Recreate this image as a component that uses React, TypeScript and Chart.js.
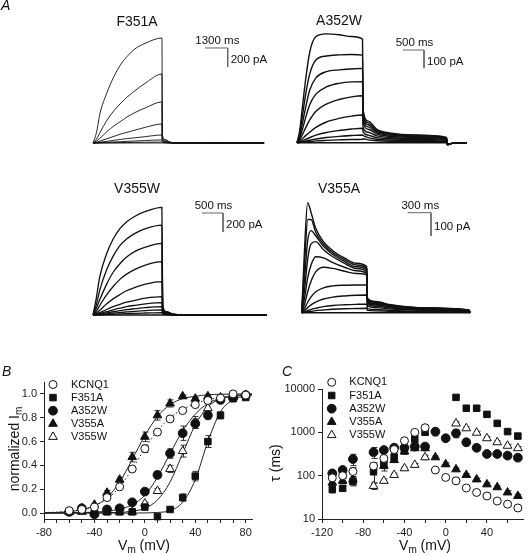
import React, { useEffect, useRef } from 'react';
import { Chart, registerables } from 'chart.js';
import { drawPoint } from 'chart.js/helpers';

Chart.register(...registerables);

const FONT = '"Liberation Sans", Arial, Helvetica, sans-serif';
const INK = '#111';
const AXIS = '#222';

// ---------------- Panel A : current traces (ms, pA) ----------------
const F351A_TIME = [0, 200, 400, 800, 1200, 1600, 2000, 2400, 3000, 3950, 3970, 4150, 4400, 4800, 9800];
const F351A_TRACES = [
  [0, 110, 310, 530, 700, 830, 920, 990, 1050, 1105, 85, 35, 10, 2, 0],
  [0, 40, 110, 240, 340, 420, 490, 550, 630, 726, 70, 30, 8, 2, 0],
  [0, 20, 50, 120, 180, 230, 280, 320, 370, 432, 55, 22, 6, 1, 0],
  [0, 8, 20, 45, 70, 95, 115, 135, 165, 200, 40, 15, 4, 1, 0],
  [0, 3, 8, 18, 28, 38, 47, 55, 67, 84, 25, 10, 3, 0, 0],
  [0, 1, 3, 7, 11, 14, 18, 21, 26, 32, 12, 5, 1, 0, 0],
  [0, 0, 1, 2, 3, 4, 5, 7, 8, 10, 5, 2, 0, 0, 0],
  [0, 0, 0, 0, 0, 0, 0, 0, 0, 0, 0, 0, 0, 0, 0],
];
const F351A_BAR = [1300, 200];

const A352W_TIME = [0, 60, 130, 200, 300, 450, 700, 1000, 1300, 1560, 1575, 1700, 1900, 2200, 2800, 3560, 3580, 3650, 4040];
const A352W_TRACES = [
  [0, 60, 200, 340, 500, 590, 605, 600, 590, 575, 181, 120, 75, 55, 43, 30, -10, -5, 0],
  [0, 45, 150, 260, 380, 460, 482, 488, 490, 487, 165, 110, 70, 50, 40, 28, -10, -5, 0],
  [0, 35, 110, 190, 290, 360, 395, 405, 410, 413, 150, 100, 63, 46, 38, 26, -10, -5, 0],
  [0, 25, 75, 135, 210, 270, 310, 330, 338, 339, 130, 88, 56, 42, 34, 24, -10, -5, 0],
  [0, 15, 45, 80, 125, 175, 215, 240, 255, 261, 110, 75, 48, 36, 30, 21, -10, -5, 0],
  [0, 8, 22, 38, 58, 85, 115, 135, 148, 154, 85, 58, 38, 29, 24, 17, -10, -5, 0],
  [0, 4, 10, 18, 28, 42, 57, 68, 76, 80, 60, 42, 28, 22, 18, 13, -10, -5, 0],
  [0, 2, 5, 9, 14, 21, 29, 35, 40, 43, 40, 28, 19, 15, 12, 9, -10, -5, 0],
  [0, 1, 3, 5, 7, 10, 13, 16, 18, 19, 22, 16, 11, 8, 7, 5, -10, -5, 0],
  [0, 0, 0, 0, 0, 0, 0, 0, 0, 0, 0, 0, 0, 0, 0, 0, -10, -5, 0],
];
const A352W_BAR = [500, 100];

const V355W_TIME = [0, 80, 160, 320, 480, 640, 800, 1000, 1250, 1640, 1660, 1750, 1900, 2200, 4140];
const V355W_TRACES = [
  [0, 180, 400, 640, 800, 910, 980, 1040, 1090, 1133, 90, 35, 10, 2, 0],
  [0, 110, 260, 470, 620, 730, 800, 860, 910, 947, 80, 30, 9, 2, 0],
  [0, 70, 160, 320, 450, 540, 610, 670, 715, 754, 70, 28, 8, 2, 0],
  [0, 40, 100, 210, 300, 375, 430, 480, 525, 561, 60, 24, 7, 1, 0],
  [0, 20, 50, 115, 170, 215, 255, 290, 325, 351, 50, 20, 6, 1, 0],
  [0, 10, 25, 58, 88, 113, 135, 155, 177, 193, 40, 16, 5, 1, 0],
  [0, 6, 15, 35, 55, 72, 88, 102, 117, 130, 30, 12, 4, 1, 0],
  [0, 4, 9, 22, 34, 45, 56, 66, 78, 88, 25, 10, 3, 0, 0],
  [0, 2, 5, 12, 19, 26, 32, 39, 46, 53, 18, 7, 2, 0, 0],
  [0, 1, 2, 5, 8, 11, 14, 18, 21, 25, 12, 5, 1, 0, 0],
  [0, 0, 0, 0, 0, 0, 0, 0, 0, 0, 0, 0, 0, 0, 0],
];
const V355W_BAR = [500, 200];

const V355A_TIME = [0, 40, 77, 120, 180, 280, 400, 550, 700, 836, 845, 950, 1150, 1500, 2150, 2165];
const V355A_TRACES = [
  [0, 300, 472, 430, 362, 305, 266, 235, 212, 197, 62, 48, 34, 22, 12, 0],
  [0, 230, 400, 400, 345, 295, 258, 228, 205, 190, 58, 45, 32, 21, 11, 0],
  [0, 160, 310, 352, 330, 285, 250, 220, 197, 183, 54, 42, 30, 20, 10, 0],
  [0, 110, 230, 295, 305, 270, 240, 212, 190, 176, 50, 39, 28, 19, 10, 0],
  [0, 70, 150, 205, 240, 235, 215, 195, 180, 169, 46, 36, 26, 18, 9, 0],
  [0, 40, 90, 135, 175, 195, 190, 178, 168, 162, 42, 33, 24, 16, 8, 0],
  [0, 20, 45, 68, 90, 107, 115, 118, 119, 119, 36, 28, 20, 14, 7, 0],
  [0, 10, 22, 34, 46, 59, 67, 72, 75, 76, 28, 22, 16, 11, 6, 0],
  [0, 4, 9, 14, 19, 26, 31, 34, 36, 37, 18, 14, 10, 7, 4, 0],
  [0, 2, 4, 6, 9, 12, 15, 17, 18, 19, 10, 8, 6, 4, 2, 0],
  [0, 0, 0, 0, 0, 0, 0, 0, 0, 0, 0, 0, 0, 0, 0, 0],
];
const V355A_BAR = [300, 100];

// ---------------- Panel B : normalized Im vs Vm ----------------
const SERIES_NAMES = ['KCNQ1', 'F351A', 'A352W', 'V355A', 'V355W'];
const B_VOLTAGES = [-60, -50, -40, -30, -20, -10, 0, 10, 20, 30, 40, 50, 60, 70, 80];
const B_KCNQ1 = [0.02, 0.03, 0.05, 0.13, 0.22, 0.37, 0.54, 0.68, 0.79, 0.86, 0.91, 0.945, 0.965, 1.0, 0.99];
const B_F351A = [0.01, 0.02, 0.0, 0.01, 0.01, 0.01, 0.05, -0.03, 0.03, 0.13, 0.31, 0.6, 0.82, 0.96, 0.97];
const B_A352W = [0.01, 0.04, -0.01, 0.03, 0.04, 0.09, 0.18, 0.32, 0.5, 0.67, 0.75, 0.82, 0.95, 0.97, 0.99];
const B_V355A = [0.01, 0.04, 0.07, 0.17, 0.28, 0.47, 0.64, 0.82, 0.92, 0.98, 0.96, 0.98, 0.97, 0.98, 0.99];
const B_V355W = [0.01, 0.01, 0.0, 0.01, 0.01, 0.01, 0.08, 0.185, 0.37, 0.52, 0.76, 0.88, 0.96, 0.97, 0.99];
const B_ERR_KCNQ1 = [0, 0, 0, 0.01, 0.01, 0.02, 0.03, 0.02, 0.02, 0.01, 0.01, 0.01, 0.01, 0, 0];
const B_ERR_F351A = [0, 0, 0, 0, 0, 0, 0, 0, 0.01, 0.03, 0.04, 0.05, 0.03, 0.02, 0.02];
const B_ERR_A352W = [0, 0, 0, 0, 0, 0.01, 0.02, 0.03, 0.04, 0.06, 0.04, 0.03, 0.03, 0.01, 0.01];
const B_ERR_V355A = [0, 0, 0.01, 0.02, 0.02, 0.04, 0.04, 0.04, 0.03, 0.01, 0.01, 0, 0, 0, 0];
const B_ERR_V355W = [0, 0, 0, 0, 0, 0, 0.01, 0.02, 0.03, 0.05, 0.05, 0.04, 0.02, 0.01, 0.01];
const B_FIT_V = [-80, -70, -60, -50, -40, -30, -20, -10, 0, 10, 20, 30, 40, 50, 60, 70, 80, 85];
const B_FIT_KCNQ1 = [0.004, 0.008, 0.016, 0.03, 0.06, 0.12, 0.22, 0.37, 0.54, 0.69, 0.8, 0.87, 0.92, 0.95, 0.97, 0.98, 0.99, 0.99];
const B_FIT_F351A = [0, 0, 0, 0, 0, 0, 0, 0, 0.001, 0.005, 0.02, 0.09, 0.28, 0.6, 0.85, 0.95, 0.985, 0.99];
const B_FIT_A352W = [0, 0.001, 0.002, 0.004, 0.008, 0.016, 0.033, 0.07, 0.15, 0.3, 0.5, 0.69, 0.83, 0.92, 0.96, 0.98, 0.99, 0.995];
const B_FIT_V355A = [0.002, 0.005, 0.012, 0.028, 0.06, 0.13, 0.26, 0.45, 0.65, 0.81, 0.91, 0.96, 0.98, 0.993, 0.997, 0.999, 1.0, 1.0];
const B_FIT_V355W = [0, 0, 0, 0.001, 0.001, 0.003, 0.006, 0.015, 0.04, 0.11, 0.26, 0.5, 0.74, 0.89, 0.96, 0.985, 0.995, 0.997];
const B_X_TICKS = [-80, -70, -60, -50, -40, -30, -20, -10, 0, 10, 20, 30, 40, 50, 60, 70, 80];
const B_X_LABELS = [-80, -40, 0, 40, 80];
const B_Y_TICKS = [0, 0.2, 0.4, 0.6, 0.8, 1.0];

// ---------------- Panel C : tau vs Vm ----------------
const C_VOLTAGES = [-110, -100, -90, -70, -60, -50, -40, -30, -20, -10, 0, 10, 20, 30, 40, 50, 60, 70];
const C_KCNQ1 = [89, 100, 125, 167, 250, 400, 640, 1000, 1280, 135, 91, 76, 52, 41, 34, 26, 22, 18];
const C_F351A = [48, 51, 73, 123, 185, 270, 400, 700, 1000, null, null, 6400, 3600, 3600, 2600, 1610, 1040, 820];
const C_A352W = [113, 135, 242, 348, 390, 442, 440, 470, 470, 1035, 730, 950, 590, 440, 316, 316, 290, 260];
const C_V355A = [69, 76, 82, null, 168, 230, 360, 430, 430, 265, 183, 140, 104, 82, 63, 54, 41, 34];
const C_V355W = [null, null, null, 58, 76, 104, 148, 177, 265, null, null, 1600, 1240, 980, 730, 590, 490, 430];
const C_ERR_KCNQ1 = [10, 10, 30, 30, 30, 40, 60, 80, 100, 10, 8, 6, 4, 3, 3, 2, 2, 2];
const C_ERR_F351A = [8, 6, 15, 55, 40, 40, 60, 120, 100, 0, 0, 400, 300, 400, 300, 150, 100, 80];
const C_ERR_A352W = [15, 15, 70, 100, 50, 50, 60, 60, 60, 200, 80, 200, 100, 50, 40, 40, 30, 30];
const C_ERR_V355A = [10, 10, 12, 0, 40, 30, 50, 50, 50, 20, 15, 10, 8, 6, 5, 4, 4, 3];
const C_ERR_V355W = [0, 0, 0, 10, 8, 10, 12, 15, 30, 0, 0, 150, 100, 80, 60, 50, 40, 40];
const C_X_TICKS = [-120, -100, -80, -60, -40, -20, 0, 20, 40, 60];
const C_X_LABELS = [-120, -80, -40, 0, 40];
const C_Y_TICKS = [10, 100, 1000, 10000];

// ---------------- helpers ----------------
type Part = { t: string; sub?: boolean };

function drawParts(ctx: CanvasRenderingContext2D, parts: Part[], cx: number, cy: number, rot: number, size: number) {
  const subSize = Math.round(size * 0.72);
  ctx.save();
  ctx.translate(cx, cy);
  ctx.rotate(rot);
  let total = 0;
  for (const p of parts) {
    ctx.font = `${p.sub ? subSize : size}px ${FONT}`;
    total += ctx.measureText(p.t).width;
  }
  let x = -total / 2;
  ctx.fillStyle = INK;
  ctx.textBaseline = 'middle';
  ctx.textAlign = 'left';
  for (const p of parts) {
    ctx.font = `${p.sub ? subSize : size}px ${FONT}`;
    ctx.fillText(p.t, x, p.sub ? 4.5 : 0);
    x += ctx.measureText(p.t).width;
  }
  ctx.restore();
}

function drawText(ctx: CanvasRenderingContext2D, s: string, x: number, y: number, size: number, align: CanvasTextAlign, italic = false) {
  ctx.save();
  ctx.font = `${italic ? 'italic ' : ''}${size}px ${FONT}`;
  ctx.fillStyle = INK;
  ctx.textAlign = align;
  ctx.textBaseline = 'middle';
  ctx.fillText(s, x, y);
  ctx.restore();
}

type TracePanel = {
  title: string;
  time: number[];
  traces: number[][];
  bar: number[];
  box: { x: number; y: number; w: number; h: number };
  xr: [number, number];
  yr: [number, number];
  barAt: [number, number];
  titleAt: [number, number];
  lw: number;
  letter?: string;
};

function traceConfig(p: TracePanel) {
  const datasets: any[] = p.traces.map((tr) => ({
    data: p.time.map((t, i) => ({ x: t, y: tr[i] })),
    borderColor: INK,
    borderWidth: p.lw,
    pointRadius: 0,
    fill: false,
    cubicInterpolationMode: 'monotone',
  }));
  const [dt, di] = p.bar;
  const [t0, i0] = p.barAt;
  datasets.push({
    data: [
      { x: t0, y: i0 },
      { x: t0 + dt, y: i0 },
      { x: t0 + dt, y: i0 - di },
    ],
    borderColor: '#666',
    borderWidth: 1,
    pointRadius: 0,
    tension: 0,
    fill: false,
  });
  const textPlugin = {
    id: 'traceText',
    afterDraw(chart: any) {
      const ctx = chart.ctx as CanvasRenderingContext2D;
      const xs = chart.scales.x;
      const ys = chart.scales.y;
      drawText(ctx, p.title, p.titleAt[0], p.titleAt[1], 14, 'center');
      drawText(ctx, `${dt} ms`, xs.getPixelForValue(t0 + dt / 2) + 1, ys.getPixelForValue(i0) - 7, 11.5, 'center');
      drawText(ctx, `${di} pA`, xs.getPixelForValue(t0 + dt) + 3, ys.getPixelForValue(i0 - di / 2) + 2.5, 11.5, 'left');
      if (p.letter) drawText(ctx, p.letter, 1, 6, 14, 'left', true);
    },
  };
  return {
    type: 'line',
    data: { datasets },
    options: {
      animation: false,
      responsive: false,
      maintainAspectRatio: false,
      events: [],
      layout: { padding: 0 },
      plugins: { legend: { display: false }, tooltip: { enabled: false } },
      scales: {
        x: { type: 'linear', display: false, min: p.xr[0], max: p.xr[1] },
        y: { type: 'linear', display: false, min: p.yr[0], max: p.yr[1] },
      },
    },
    plugins: [textPlugin],
  };
}

const STYLES = [
  { pointStyle: 'circle', radius: 4, fill: '#fff' },
  { pointStyle: 'rect', radius: 4.6, fill: INK },
  { pointStyle: 'circle', radius: 4.4, fill: INK },
  { pointStyle: 'triangle', radius: 5, fill: INK },
  { pointStyle: 'triangle', radius: 5, fill: '#fff' },
];

function pts(xs: number[], ys: (number | null)[], es: number[]) {
  const data: { x: number; y: number }[] = [];
  const errs: number[] = [];
  xs.forEach((x, i) => {
    const y = ys[i];
    if (y !== null && y !== undefined) {
      data.push({ x, y });
      errs.push(es[i]);
    }
  });
  return { data, errs };
}

function markerSets(xs: number[], series: (number | null)[][], errs: number[][]) {
  return series.map((ys, k) => {
    const d = pts(xs, ys, errs[k]);
    const st = STYLES[k];
    return {
      data: d.data,
      errs: d.errs,
      showLine: false,
      pointStyle: st.pointStyle,
      pointRadius: st.radius,
      pointBackgroundColor: st.fill,
      pointBorderColor: INK,
      pointBorderWidth: 1,
      clip: false,
    };
  });
}

const errorBarPlugin = {
  id: 'errbars',
  beforeDatasetsDraw(chart: any) {
    const ctx = chart.ctx as CanvasRenderingContext2D;
    const ys = chart.scales.y;
    ctx.save();
    ctx.strokeStyle = '#333';
    ctx.lineWidth = 1;
    chart.data.datasets.forEach((ds: any, i: number) => {
      if (!ds.errs) return;
      const meta = chart.getDatasetMeta(i);
      meta.data.forEach((el: any, j: number) => {
        const e = ds.errs[j];
        if (!e) return;
        const v = ds.data[j].y;
        const lo = Math.max(v - e, ys.min);
        const y1 = ys.getPixelForValue(v + e);
        const y2 = ys.getPixelForValue(lo);
        const x = Math.round(el.x) + 0.5;
        ctx.beginPath();
        ctx.moveTo(x, y1);
        ctx.lineTo(x, y2);
        ctx.moveTo(x - 3, y1);
        ctx.lineTo(x + 3, y1);
        ctx.moveTo(x - 3, y2);
        ctx.lineTo(x + 3, y2);
        ctx.stroke();
      });
    });
    ctx.restore();
  },
};

function legendPlugin(symX: number, textX: number, y0: number, dy: number) {
  return {
    id: 'customLegend',
    afterDraw(chart: any) {
      const ctx = chart.ctx as CanvasRenderingContext2D;
      SERIES_NAMES.forEach((name, k) => {
        const st = STYLES[k];
        const y = y0 + k * dy;
        ctx.save();
        ctx.fillStyle = st.fill;
        ctx.strokeStyle = INK;
        ctx.lineWidth = 1;
        drawPoint(ctx, { pointStyle: st.pointStyle as any, radius: st.radius, rotation: 0, borderWidth: 1 } as any, symX, y);
        ctx.restore();
        drawText(ctx, name, textX, y, 11, 'left');
      });
    },
  };
}

function axisStyle(ticks: number[], cb: (v: number) => string, fit: (s: any) => void, extra: any = {}) {
  return {
    ...extra,
    afterBuildTicks: (axis: any) => {
      axis.ticks = ticks.map((v) => ({ value: v }));
    },
    afterFit: fit,
    ticks: {
      autoSkip: false,
      maxRotation: 0,
      minRotation: 0,
      padding: 3,
      color: AXIS,
      font: { family: FONT, size: 11 },
      callback: (v: any) => cb(Number(v)),
    },
    grid: { drawOnChartArea: false, drawTicks: true, tickLength: 4, color: AXIS, tickColor: AXIS, lineWidth: 1 },
    border: { display: true, color: AXIS, width: 1 },
  };
}

const X_TITLE: Part[] = [{ t: 'V' }, { t: 'm', sub: true }, { t: ' (mV)' }];
const B_Y_TITLE: Part[] = [{ t: 'normalized I' }, { t: 'm', sub: true }];
const C_Y_TITLE: Part[] = [{ t: '\u03c4 (ms)' }];

function panelBConfig() {
  const fits = [B_FIT_KCNQ1, B_FIT_F351A, B_FIT_A352W, B_FIT_V355A, B_FIT_V355W].map((f, k) => ({
    data: B_FIT_V.map((v, i) => ({ x: v, y: f[i] })),
    showLine: true,
    pointRadius: 0,
    borderColor: '#222',
    borderWidth: 1,
    borderDash: k === 0 ? [1.5, 2.5] : [],
    cubicInterpolationMode: 'monotone',
    fill: false,
  }));
  const marks = markerSets(
    B_VOLTAGES,
    [B_KCNQ1, B_F351A, B_A352W, B_V355A, B_V355W],
    [B_ERR_KCNQ1, B_ERR_F351A, B_ERR_A352W, B_ERR_V355A, B_ERR_V355W]
  );
  const titles = {
    id: 'bTitles',
    afterDraw(chart: any) {
      const ctx = chart.ctx as CanvasRenderingContext2D;
      drawParts(ctx, X_TITLE, 144, 216, 0, 14);
      drawParts(ctx, B_Y_TITLE, 15, 119, -Math.PI / 2, 14);
      drawText(ctx, 'B', 2, 42, 14, 'left', true);
    },
  };
  return {
    type: 'scatter',
    data: { datasets: [...marks, ...fits] },
    options: {
      animation: false,
      responsive: false,
      maintainAspectRatio: false,
      events: [],
      layout: { padding: { top: 52, right: 13, left: 0, bottom: 0 } },
      plugins: { legend: { display: false }, tooltip: { enabled: false } },
      scales: {
        x: axisStyle(
          B_X_TICKS,
          (v) => (B_X_LABELS.includes(v) ? String(v) : ''),
          (s) => {
            s.height = 36;
          },
          { type: 'linear', min: -80, max: 85 }
        ),
        y: axisStyle(
          B_Y_TICKS,
          (v) => v.toFixed(1),
          (s) => {
            s.width = 44;
          },
          { type: 'linear', min: -0.05, max: 1.1 }
        ),
      },
    },
    plugins: [errorBarPlugin, legendPlugin(53, 71, 54.5, 13.1), titles],
  };
}

function panelCConfig() {
  const marks = markerSets(
    C_VOLTAGES,
    [C_KCNQ1, C_F351A, C_A352W, C_V355A, C_V355W],
    [C_ERR_KCNQ1, C_ERR_F351A, C_ERR_A352W, C_ERR_V355A, C_ERR_V355W]
  );
  const titles = {
    id: 'cTitles',
    afterDraw(chart: any) {
      const ctx = chart.ctx as CanvasRenderingContext2D;
      drawParts(ctx, X_TITLE, 160, 216, 0, 14);
      drawParts(ctx, C_Y_TITLE, 11, 133, -Math.PI / 2, 14);
      drawText(ctx, 'C', 17, 42, 14, 'left', true);
    },
  };
  return {
    type: 'scatter',
    data: { datasets: marks },
    options: {
      animation: false,
      responsive: false,
      maintainAspectRatio: false,
      events: [],
      layout: { padding: { top: 59, right: 0, left: 0, bottom: 0 } },
      plugins: { legend: { display: false }, tooltip: { enabled: false } },
      scales: {
        x: axisStyle(
          C_X_TICKS,
          (v) => (C_X_LABELS.includes(v) ? String(v) : ''),
          (s) => {
            s.height = 36;
          },
          { type: 'linear', min: -120, max: 75 }
        ),
        y: axisStyle(
          C_Y_TICKS,
          (v) => String(v),
          (s) => {
            s.width = 57;
          },
          { type: 'logarithmic', min: 10, max: 10000 }
        ),
      },
    },
    plugins: [errorBarPlugin, legendPlugin(66.7, 84.3, 52.3, 13.2), titles],
  };
}

// Left-column canvases are wider than their column so that scale-bar labels are not cut.
const PANELS_A: TracePanel[] = [
  {
    title: 'F351A', time: F351A_TIME, traces: F351A_TRACES, bar: F351A_BAR,
    box: { x: 0, y: 0, w: 280, h: 160 }, xr: [-5326, 10710], yr: [-179, 1505],
    barAt: [6415, 1000], titleAt: [137, 22], lw: 0.9, letter: 'A',
  },
  {
    title: 'A352W', time: A352W_TIME, traces: A352W_TRACES, bar: A352W_BAR,
    box: { x: 265, y: 0, w: 264, h: 160 }, xr: [-762, 5524], yr: [-96, 793],
    barAt: [2524, 515], titleAt: [74, 21], lw: 1.4,
  },
  {
    title: 'V355W', time: V355W_TIME, traces: V355W_TRACES, bar: V355W_BAR,
    box: { x: 0, y: 160, w: 280, h: 170 }, xr: [-2214, 4452], yr: [-158, 1632],
    barAt: [2595, 1074], titleAt: [137, 29], lw: 1.3,
  },
  {
    title: 'V355A', time: V355A_TIME, traces: V355A_TRACES, bar: V355A_BAR,
    box: { x: 265, y: 160, w: 264, h: 170 }, xr: [-472, 2922], yr: [-74, 655],
    barAt: [1362, 429], titleAt: [74, 29], lw: 1.4,
  },
];

type Box = { x: number; y: number; w: number; h: number };

function ChartBox({ box, make }: { box: Box; make: () => any }) {
  const ref = useRef<HTMLCanvasElement | null>(null);
  useEffect(() => {
    if (!ref.current) return;
    const chart = new Chart(ref.current, make());
    return () => chart.destroy();
  }, []);
  return (
    <canvas
      ref={ref}
      width={box.w}
      height={box.h}
      style={{ position: 'absolute', left: box.x, top: box.y, width: box.w, height: box.h, display: 'block' }}
    />
  );
}

export default function App() {
  return (
    <div style={{ position: 'absolute', left: 0, top: 0, width: 529, height: 555, background: '#fff', overflow: 'hidden' }}>
      {PANELS_A.map((p) => (
        <ChartBox key={p.title} box={p.box} make={() => traceConfig(p)} />
      ))}
      <ChartBox box={{ x: 0, y: 330, w: 265, h: 225 }} make={panelBConfig} />
      <ChartBox box={{ x: 265, y: 330, w: 264, h: 225 }} make={panelCConfig} />
    </div>
  );
}
